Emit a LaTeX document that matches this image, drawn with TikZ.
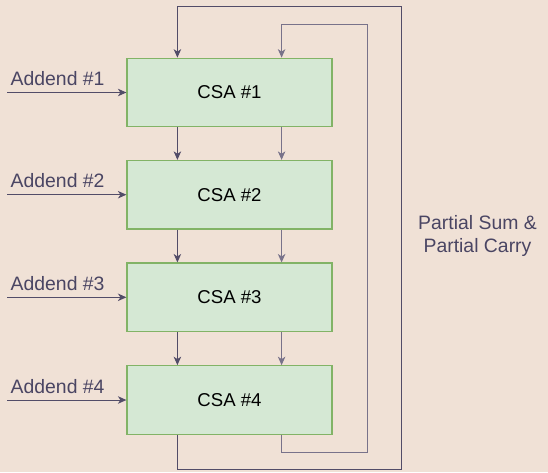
\documentclass[tikz,border=0pt]{standalone}
\usepackage{fontspec}
\setmainfont{Liberation Sans}
\usetikzlibrary{arrows.meta,calc}
\definecolor{bg}{RGB}{240,225,214}
\definecolor{boxfill}{RGB}{213,232,212}
\definecolor{boxline}{RGB}{130,179,102}
\definecolor{wire}{RGB}{82,76,104}
\definecolor{wirelight}{RGB}{120,114,138}
\definecolor{txt}{RGB}{74,69,99}
\tikzset{
  csabox/.style={draw=boxline, fill=boxfill, line width=1.2pt, minimum width=205pt, minimum height=68.5pt, inner sep=0pt, font=\fontsize{18.6}{22}\selectfont, text=black},
  arr/.style={draw=wire, line width=1pt, -{Stealth[length=8.5pt,width=7.5pt,inset=2.5pt]}},
  arrl/.style={arr, draw=wirelight},
  lbl/.style={font=\fontsize{19.4}{23}\selectfont, text=txt, inner sep=0pt},
}
\begin{document}
\begin{tikzpicture}[x=1pt,y=-1pt]
\useasboundingbox[fill=bg] (0,0) rectangle (548,472);
\node[csabox] (c1) at (229.5,92.5) {CSA \#1};
\node[csabox] (c2) at (229.5,194.7) {CSA \#2};
\node[csabox] (c3) at (229.5,297.3) {CSA \#3};
\node[csabox] (c4) at (229.5,400) {CSA \#4};
% vertical links
\foreach \a/\b in {c1/c2,c2/c3,c3/c4}{
  \draw[arr] ([xshift=51pt]\a.south west) -- ([xshift=51pt]\b.north west);
  \draw[arrl] ([xshift=-51pt]\a.south east) -- ([xshift=-51pt]\b.north east);
}
% feedback loops
\coordinate (ob) at (401,469);
\coordinate (ot) at (401,6.5);
\coordinate (ib) at (367,452);
\coordinate (it) at (367,24);
\draw[arr] ([xshift=51pt]c4.south west) |- (ob) -- (ot) -| ([xshift=51pt]c1.north west);
\draw[arrl] ([xshift=-51pt]c4.south east) |- (ib) -- (it) -| ([xshift=-51pt]c1.north east);
% addends
\foreach \i in {1,...,4}{
  \coordinate (a\i) at (c\i.west -| 7,0);
  \draw[arr] (a\i) -- (c\i.west);
  \node[lbl, anchor=base west] (l\i) at ($(a\i)+(3.5,-6.8)$) {Addend \#\i};
}
\node[lbl, anchor=base] (p1) at (477.5,229.5) {Partial Sum \&};
\node[lbl, anchor=base] (p2) at (477.5,252.5) {Partial Carry};
\end{tikzpicture}
\end{document}
